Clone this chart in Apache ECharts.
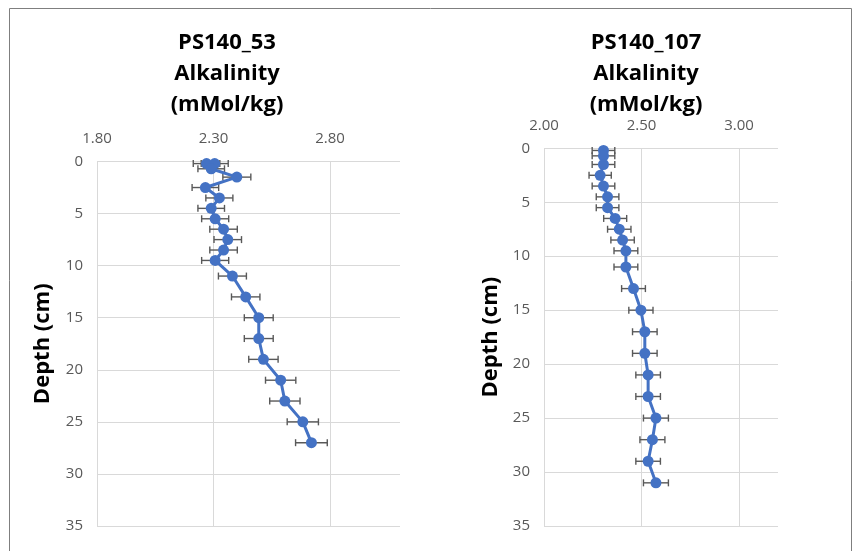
<!DOCTYPE html>
<html>
<head>
<meta charset="utf-8">
<script src="https://cdn.jsdelivr.net/npm/echarts@6/dist/echarts.min.js"></script>
<style>
html,body{margin:0;padding:0;background:#fff;}
#chart{width:860px;height:551px;}
</style>
</head>
<body>
<div id="chart"></div>
<script>
// ---- Data ----
const titleLeft = 'PS140_53\nAlkalinity\n(mMol/kg)';
const titleRight = 'PS140_107\nAlkalinity\n(mMol/kg)';
const yAxisTitle = 'Depth (cm)';

const depth53 = [0.2, 0.2, 0.7, 1.5, 2.5, 3.5, 4.5, 5.5, 6.5, 7.5, 8.5, 9.5, 11, 13, 15, 17, 19, 21, 23, 25, 27];
const alk53 = [2.27, 2.305, 2.29, 2.40, 2.265, 2.325, 2.29, 2.307, 2.343, 2.361, 2.343, 2.307, 2.381, 2.438, 2.494, 2.494, 2.514, 2.588, 2.606, 2.683, 2.72];
const err53 = [0.057, 0.058, 0.057, 0.06, 0.057, 0.058, 0.057, 0.058, 0.059, 0.059, 0.059, 0.058, 0.06, 0.061, 0.062, 0.062, 0.063, 0.065, 0.065, 0.067, 0.068];

const depth107 = [0.2, 0.7, 1.5, 2.5, 3.5, 4.5, 5.5, 6.5, 7.5, 8.5, 9.5, 11, 13, 15, 17, 19, 21, 23, 25, 27, 29, 31];
const alk107 = [2.305, 2.305, 2.305, 2.288, 2.305, 2.326, 2.326, 2.365, 2.386, 2.403, 2.42, 2.42, 2.459, 2.497, 2.517, 2.517, 2.534, 2.534, 2.574, 2.556, 2.534, 2.574];
const err107 = [0.058, 0.058, 0.058, 0.057, 0.058, 0.058, 0.058, 0.059, 0.06, 0.06, 0.061, 0.061, 0.061, 0.062, 0.063, 0.063, 0.063, 0.063, 0.064, 0.064, 0.063, 0.064];

const xTicks53 = [1.8, 2.3, 2.8];
const xTicks107 = [2.0, 2.5, 3.0];
const depthTicks = [0, 5, 10, 15, 20, 25, 30, 35];

// ---- Build ----
const FONT = '"Open Sans", "DejaVu Sans", sans-serif';
const LABEL_COLOR = '#595959';
const GRID_COLOR = '#d9d9d9';
const SERIES_COLOR = '#4472C4';
const ERR_COLOR = '#595959';

function pts(xs, ys) { return xs.map((v, i) => [v, ys[i]]); }
function errData(xs, ys, es) { return xs.map((v, i) => [v - es[i], v + es[i], ys[i]]); }

function errRender(params, api) {
  const lo = api.coord([api.value(0), api.value(2)]);
  const hi = api.coord([api.value(1), api.value(2)]);
  const cap = 3.5;
  const style = { stroke: ERR_COLOR, lineWidth: 1.4 };
  return {
    type: 'group',
    children: [
      { type: 'line', shape: { x1: lo[0], y1: lo[1], x2: hi[0], y2: hi[1] }, style },
      { type: 'line', shape: { x1: lo[0], y1: lo[1] - cap, x2: lo[0], y2: lo[1] + cap }, style },
      { type: 'line', shape: { x1: hi[0], y1: hi[1] - cap, x2: hi[0], y2: hi[1] + cap }, style }
    ]
  };
}

function xAxisCfg(idx, min, max, ticks) {
  return {
    gridIndex: idx, type: 'value', position: 'top',
    min: min, max: max, interval: 0.5,
    axisLine: { show: false }, axisTick: { show: false },
    axisLabel: {
      color: LABEL_COLOR, fontFamily: FONT, fontSize: 15, margin: 15,
      formatter: v => ticks.some(t => Math.abs(t - v) < 1e-6) ? v.toFixed(2) : ''
    },
    splitLine: { show: true, showMaxLine: false, lineStyle: { color: GRID_COLOR, width: 1 } }
  };
}
function yAxisCfg(idx, gap) {
  return {
    gridIndex: idx, type: 'value', inverse: true,
    min: depthTicks[0], max: depthTicks[depthTicks.length - 1], interval: 5,
    name: yAxisTitle, nameLocation: 'middle', nameRotate: 90, nameGap: gap,
    nameTextStyle: { color: '#000', fontFamily: FONT, fontSize: 22, fontWeight: 'bold' },
    axisLine: { show: false }, axisTick: { show: false },
    axisLabel: { color: LABEL_COLOR, fontFamily: FONT, fontSize: 15, margin: 14 },
    splitLine: { show: true, lineStyle: { color: GRID_COLOR, width: 1 } }
  };
}
function titleCfg(text, left, top) {
  return {
    text: text, left: left, top: top, textAlign: 'center',
    textStyle: { color: '#000', fontFamily: FONT, fontSize: 22, fontWeight: 'bold', lineHeight: 31 }
  };
}

const chart = echarts.init(document.getElementById('chart'), null, { renderer: 'canvas' });
chart.setOption({
  animation: false,
  backgroundColor: '#fff',
  title: [titleCfg(titleLeft, 222, 22), titleCfg(titleRight, 641, 22)],
  grid: [
    { left: 97, top: 161.5, width: 303, height: 364.5 },
    { left: 544, top: 148.3, width: 234, height: 377.7 }
  ],
  xAxis: [xAxisCfg(0, 1.8, 3.1, xTicks53), xAxisCfg(1, 2.0, 3.2, xTicks107)],
  yAxis: [yAxisCfg(0, 43), yAxisCfg(1, 42)],
  graphic: [{
    type: 'rect', shape: { x: 9.5, y: 8.5, width: 842, height: 560 },
    style: { fill: 'none', stroke: '#7f7f7f', lineWidth: 1 }, silent: true
  }],
  series: [
    { type: 'custom', xAxisIndex: 0, yAxisIndex: 0, renderItem: errRender, data: errData(alk53, depth53, err53), z: 2 },
    { type: 'line', xAxisIndex: 0, yAxisIndex: 0, data: pts(alk53, depth53), symbol: 'circle', symbolSize: 11,
      lineStyle: { color: SERIES_COLOR, width: 3 }, itemStyle: { color: SERIES_COLOR }, z: 3 },
    { type: 'custom', xAxisIndex: 1, yAxisIndex: 1, renderItem: errRender, data: errData(alk107, depth107, err107), z: 2 },
    { type: 'line', xAxisIndex: 1, yAxisIndex: 1, data: pts(alk107, depth107), symbol: 'circle', symbolSize: 11,
      lineStyle: { color: SERIES_COLOR, width: 3 }, itemStyle: { color: SERIES_COLOR }, z: 3 }
  ]
});
</script>
</body>
</html>
